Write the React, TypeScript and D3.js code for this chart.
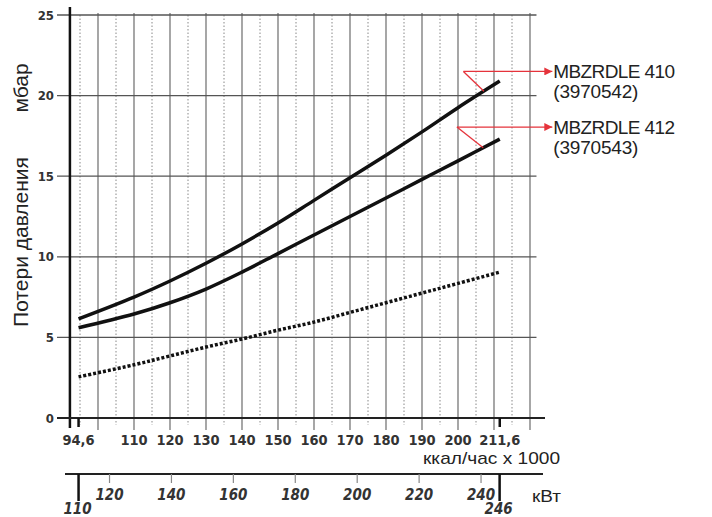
import React from 'react';
import * as d3 from 'd3';

// ---- data ----
const kcal = [94.6, 110, 120, 130, 140, 150, 160, 170, 180, 190, 200, 211.6];
const mbzrdle410 = [6.15, 7.5, 8.5, 9.6, 10.8, 12.1, 13.5, 14.9, 16.3, 17.75, 19.25, 20.9];
const mbzrdle412 = [5.6, 6.45, 7.15, 8.0, 9.05, 10.2, 11.35, 12.5, 13.65, 14.8, 15.95, 17.3];
const dottedSeries = [2.55, 3.3, 3.85, 4.4, 4.9, 5.45, 5.95, 6.55, 7.15, 7.75, 8.35, 9.05];

const yTicks = [0, 5, 10, 15, 20, 25];
const gridSolid = [100, 110, 120, 130, 140, 150, 160, 170, 180, 190, 200, 210, 220];
const gridDotted = [95, 105, 115, 125, 135, 145, 155, 165, 175, 185, 195, 205, 215];
const kcalLabels = [94.6, 110, 120, 130, 140, 150, 160, 170, 180, 190, 200, 211.6];
const kwTicks = [120, 140, 160, 180, 200, 220, 240];
const kwLimits = [110, 246];
const KCAL_PER_KW = 0.86;

const labels = [
  { name: 'MBZRDLE 410', code: '(3970542)', tipK: 207.2, elbowK: 201.5, elbowV: 21.5 },
  { name: 'MBZRDLE 412', code: '(3970543)', tipK: 207, elbowK: 199.7, elbowV: 18.05 },
];
const labelSeries = [mbzrdle410, mbzrdle412];

const fmt = (v: number) => String(v).replace('.', ',');

export default function App() {
  const x = d3.scaleLinear().domain([110, 210]).range([134, 494]);
  const y = d3.scaleLinear().domain([0, 25]).range([418, 15]);
  const xKw = (kw: number) => x(kw * KCAL_PER_KW);

  const line = d3
    .line<[number, number]>()
    .x((d) => x(d[0]))
    .y((d) => y(d[1]))
    .curve(d3.curveCatmullRom.alpha(0.5));

  const interp = (series: number[], k: number) => {
    for (let i = 0; i < kcal.length - 1; i++) {
      if (k >= kcal[i] && k <= kcal[i + 1]) {
        const t = (k - kcal[i]) / (kcal[i + 1] - kcal[i]);
        return series[i] + t * (series[i + 1] - series[i]);
      }
    }
    return series[series.length - 1];
  };

  const tickFont = "'Liberation Sans Narrow','Arial Narrow','DejaVu Sans Condensed',sans-serif";
  const textFont = "'Liberation Sans',Arial,Helvetica,sans-serif";
  const red = '#e5333b';
  const xMin = 92.2;
  const xMax = 221.8;
  const arrowEndK = 226.2;

  return (
    <svg
      width={712}
      height={517}
      style={{ position: 'absolute', left: 0, top: 0, background: '#fff' }}
    >
      <defs>
        <marker id="arr" viewBox="0 0 10 10" refX="10" refY="5" markerWidth="11" markerHeight="8" markerUnits="userSpaceOnUse" orient="auto">
          <path d="M0,0 L10,5 L0,10 z" fill={red} />
        </marker>
      </defs>

      {/* vertical dotted grid */}
      {gridDotted.map((k) => (
        <line key={'d' + k} x1={x(k)} x2={x(k)} y1={y(25)} y2={y(0) + 7} stroke="#888" strokeWidth={1} strokeDasharray="1.5,2" />
      ))}
      {/* vertical solid grid */}
      {gridSolid.map((k) => (
        <line key={'s' + k} x1={x(k)} x2={x(k)} y1={y(25) - 2} y2={y(0) + 12} stroke="#777" strokeWidth={1.3} />
      ))}
      {/* horizontal grid */}
      {yTicks.map((v) => (
        <line key={'h' + v} x1={57} x2={x(xMax)} y1={y(v)} y2={y(v)} stroke="#555" strokeWidth={1.3} />
      ))}
      {/* y tick labels */}
      {yTicks.map((v) => (
        <text key={'yl' + v} x={54} y={y(v) + 4.5} textAnchor="end" fontFamily={tickFont} fontWeight="bold" fontSize={13} fill="#333">
          {v}
        </text>
      ))}

      {/* axes */}
      <line x1={x(xMin)} x2={x(xMin)} y1={7} y2={428} stroke="#111" strokeWidth={2.5} />
      <line x1={57} x2={545} y1={y(0)} y2={y(0)} stroke="#222" strokeWidth={2} />
      {[94.6, 211.6].map((k) => (
        <line key={'tk' + k} x1={x(k)} x2={x(k)} y1={y(0)} y2={y(0) + 9} stroke="#111" strokeWidth={2.5} />
      ))}

      {/* kcal labels */}
      {kcalLabels.map((k) => (
        <text key={'kl' + k} x={x(k)} y={445} textAnchor="middle" fontFamily={tickFont} fontWeight="bold" fontSize={14.5} fill="#333">
          {fmt(k)}
        </text>
      ))}
      <text x={423} y={464} fontFamily={textFont} fontSize={17} fill="#222" textLength={137} lengthAdjust="spacingAndGlyphs">
        ккал/час x 1000
      </text>

      {/* kW axis */}
      <line x1={65} x2={543} y1={474} y2={474} stroke="#222" strokeWidth={2} />
      {kwTicks.map((kw) => (
        <g key={'kw' + kw}>
          <line x1={xKw(kw)} x2={xKw(kw)} y1={474} y2={483} stroke="#888" strokeWidth={1.2} />
          <text x={xKw(kw)} y={500} textAnchor="middle" fontFamily={tickFont} fontWeight="bold" fontStyle="italic" fontSize={15} fill="#333">
            {kw}
          </text>
        </g>
      ))}
      {kwLimits.map((kw) => (
        <g key={'kwl' + kw}>
          <line x1={xKw(kw)} x2={xKw(kw)} y1={474} y2={501} stroke="#111" strokeWidth={2.5} />
          <text x={xKw(kw) - 1} y={514} textAnchor="middle" fontFamily={tickFont} fontWeight="bold" fontStyle="italic" fontSize={15} fill="#333">
            {kw}
          </text>
        </g>
      ))}
      <text x={532} y={502} fontFamily={textFont} fontSize={17} fill="#222" textLength={29} lengthAdjust="spacingAndGlyphs">
        кВт
      </text>

      {/* y title */}
      <text transform="translate(27.5,242) rotate(-90)" textAnchor="middle" fontFamily={textFont} fontSize={21} fill="#222">
        Потери давления
      </text>
      <text transform="translate(28,88) rotate(-90)" textAnchor="middle" fontFamily={textFont} fontSize={21} fill="#222">
        мбар
      </text>

      {/* curves */}
      <path d={line(kcal.map((k, i) => [k, dottedSeries[i]]) as any) || ''} fill="none" stroke="#111" strokeWidth={3.5} strokeDasharray="3,2" />
      <path d={line(kcal.map((k, i) => [k, mbzrdle412[i]]) as any) || ''} fill="none" stroke="#111" strokeWidth={3.5} />
      <path d={line(kcal.map((k, i) => [k, mbzrdle410[i]]) as any) || ''} fill="none" stroke="#111" strokeWidth={3.5} />

      {/* annotations */}
      {labels.map((l, i) => {
        const ex = x(l.elbowK);
        const ey = y(l.elbowV);
        const tx = x(l.tipK);
        const ty = y(interp(labelSeries[i], l.tipK));
        return (
          <g key={'lab' + i}>
            <line x1={ex} y1={ey} x2={tx} y2={ty} stroke={red} strokeWidth={1.3} />
            <line x1={ex} y1={ey} x2={x(arrowEndK)} y2={ey} stroke={red} strokeWidth={1.3} markerEnd="url(#arr)" />
            <text x={x(arrowEndK) + 1} y={ey + 7} fontFamily={textFont} fontSize={19} fill="#222" letterSpacing={-0.6}>
              {l.name}
            </text>
            <text x={x(arrowEndK) + 1} y={ey + 27} fontFamily={textFont} fontSize={19} fill="#222" letterSpacing={-0.2}>
              {l.code}
            </text>
          </g>
        );
      })}
    </svg>
  );
}
